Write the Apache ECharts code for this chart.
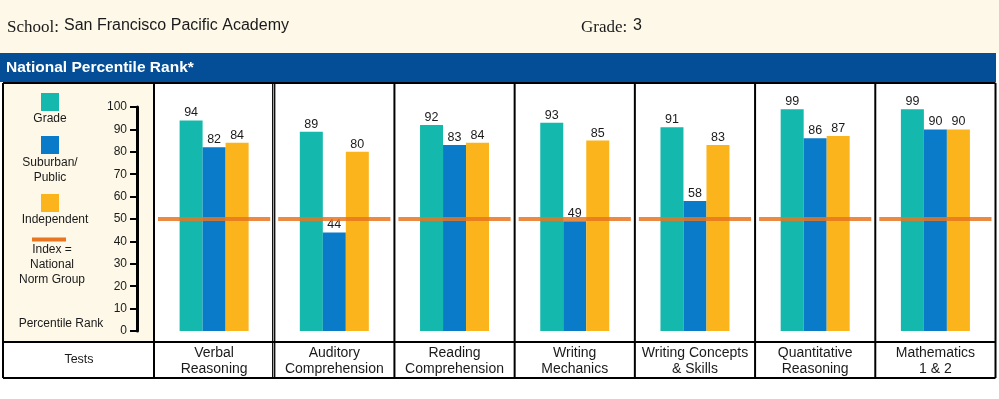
<!DOCTYPE html>
<html>
<head>
<meta charset="utf-8">
<style>
html, body { margin: 0; padding: 0; background: #fff; }
#main { width: 999px; height: 399px; }
</style>
<script src="https://cdn.jsdelivr.net/npm/echarts@6/dist/echarts.min.js"></script>
</head>
<body>
<div id="main"></div>
<script>
// chart data
var categories = ['Verbal\nReasoning', 'Auditory\nComprehension', 'Reading\nComprehension', 'Writing\nMechanics',
  'Writing Concepts\n& Skills', 'Quantitative\nReasoning', 'Mathematics\n1 & 2'];
var gradeValues = [94, 89, 92, 93, 91, 99, 99];
var suburbanValues = [82, 44, 83, 49, 58, 86, 90];
var independentValues = [84, 80, 84, 85, 83, 87, 90];
var indexValues = [50, 50, 50, 50, 50, 50, 50];
var seriesNames = ['Grade', 'Suburban/\nPublic', 'Independent'];
var indexName = 'Index =\nNational\nNorm Group';
var schoolName = 'San Francisco Pacific Academy';
var gradeLevel = '3';

var colors = ['#15b8ac', '#0a7bc8', '#fbb41b'];
var orange = '#e8751f';
var cream = '#fdf8e7';
var sans = '"Liberation Sans", Arial, sans-serif';
var serif = '"Liberation Serif", "Times New Roman", serif';

// layout
var W = 999;
var gridLeft = 154, gridRight = 3.5, gridTop = 107, gridBottom = 68;
var tableTop = 83, tableBottom = 378, rowLine = 342;
var colW = (W - gridRight - gridLeft) / categories.length;

var chart = echarts.init(document.getElementById('main'), null, { renderer: 'canvas' });

function txt(x, y, text, size, opts) {
  opts = opts || {};
  return {
    type: 'text', x: x, y: y, z: opts.z || 10,
    style: {
      text: text, fontSize: size, fontFamily: opts.family || sans,
      fontWeight: opts.weight || 'normal', fill: opts.fill || '#1a1a1a',
      align: opts.align || 'center', verticalAlign: 'middle', lineHeight: opts.lh || size + 3
    }
  };
}
function line(x1, y1, x2, y2, w, color) {
  return {
    type: 'line', z: 100,
    shape: { x1: x1, y1: y1, x2: x2, y2: y2 },
    style: { stroke: color || '#000', lineWidth: w }
  };
}

var graphics = [
  // header band
  { type: 'rect', z: 0, shape: { x: 0, y: 0, width: W, height: 53 }, style: { fill: cream } },
  txt(7, 28, 'School:', 17, { family: serif, align: 'left' }),
  txt(64, 26, schoolName, 16, { align: 'left' }),
  txt(581, 28, 'Grade:', 17, { family: serif, align: 'left' }),
  txt(633, 26, gradeLevel, 16, { align: 'left' }),
  { type: 'rect', z: 0, shape: { x: 0, y: 53, width: 996, height: 29 }, style: { fill: '#034e96' } },
  txt(6, 68, 'National Percentile Rank*', 15.5, { weight: 'bold', fill: '#fff', align: 'left' }),
  // left panel
  { type: 'rect', z: 0, shape: { x: 4, y: tableTop, width: gridLeft - 4, height: rowLine - tableTop }, style: { fill: cream } },
  { type: 'rect', z: 10, shape: { x: 41, y: 93, width: 18, height: 18 }, style: { fill: colors[0] } },
  txt(50, 119, seriesNames[0], 12),
  { type: 'rect', z: 10, shape: { x: 41, y: 136, width: 18, height: 18 }, style: { fill: colors[1] } },
  txt(50, 170, seriesNames[1], 12, { lh: 15 }),
  { type: 'rect', z: 10, shape: { x: 41, y: 194, width: 18, height: 18 }, style: { fill: colors[2] } },
  txt(55, 220, seriesNames[2], 12),
  line(32, 239.5, 66, 239.5, 4, orange),
  txt(52, 265, indexName, 12, { lh: 15 }),
  txt(61, 324, 'Percentile Rank', 12),
  txt(79, 360, 'Tests', 12.5),
  // table rules
  line(3, tableTop, 995.5, tableTop, 2),
  line(3, tableBottom, 995.5, tableBottom, 2),
  line(3, rowLine, 995.5, rowLine, 2),
  line(3, tableTop, 3, tableBottom, 2),
  line(W - gridRight, tableTop, W - gridRight, tableBottom, 2)
];
for (var i = 0; i < categories.length; i++) {
  var x = gridLeft + i * colW;
  if (i === 1) {
    graphics.push(line(x - 1.5, tableTop, x - 1.5, tableBottom, 1.3));
    graphics.push(line(x + 0.5, tableTop, x + 0.5, tableBottom, 1.3));
  } else {
    graphics.push(line(x, tableTop, x, tableBottom, 2));
  }
}

function barSeries(name, data, color) {
  return {
    name: name, type: 'bar', data: data, barWidth: 23, barGap: 0, z: 2,
    itemStyle: { color: color },
    label: {
      show: true, position: 'top', distance: 1,
      fontSize: 12.5, fontFamily: sans, color: '#1a1a1a'
    }
  };
}

var option = {
  animation: false,
  backgroundColor: '#fff',
  grid: { left: gridLeft, right: gridRight, top: gridTop, bottom: gridBottom },
  xAxis: {
    type: 'category', data: categories,
    axisLine: { show: false }, axisTick: { show: false },
    axisLabel: { interval: 0, margin: 14, fontSize: 14, lineHeight: 16, fontFamily: sans, color: '#1a1a1a' }
  },
  yAxis: {
    type: 'value', min: 0, max: 100, interval: 10, offset: 17,
    splitLine: { show: false },
    axisLine: { show: true, lineStyle: { color: '#000', width: 3 } },
    axisTick: { show: true, length: 7, lineStyle: { color: '#000', width: 2 } },
    axisLabel: { margin: 10, fontSize: 12, fontFamily: sans, color: '#1a1a1a' }
  },
  graphic: graphics,
  series: [
    barSeries(seriesNames[0], gradeValues, colors[0]),
    barSeries(seriesNames[1], suburbanValues, colors[1]),
    barSeries(seriesNames[2], independentValues, colors[2]),
    {
      name: 'Index', type: 'custom', z: 5,
      data: indexValues.map(function (v, i) { return [i, v]; }),
      encode: { x: 0, y: 1 },
      renderItem: function (params, api) {
        var pt = api.coord([api.value(0), api.value(1)]);
        var w = api.size([1, 0])[0];
        return {
          type: 'line',
          shape: { x1: pt[0] - w / 2 + 4, y1: pt[1], x2: pt[0] + w / 2 - 4, y2: pt[1] },
          style: { stroke: orange, lineWidth: 4, opacity: 0.85 }
        };
      }
    }
  ]
};
chart.setOption(option);
</script>
</body>
</html>
